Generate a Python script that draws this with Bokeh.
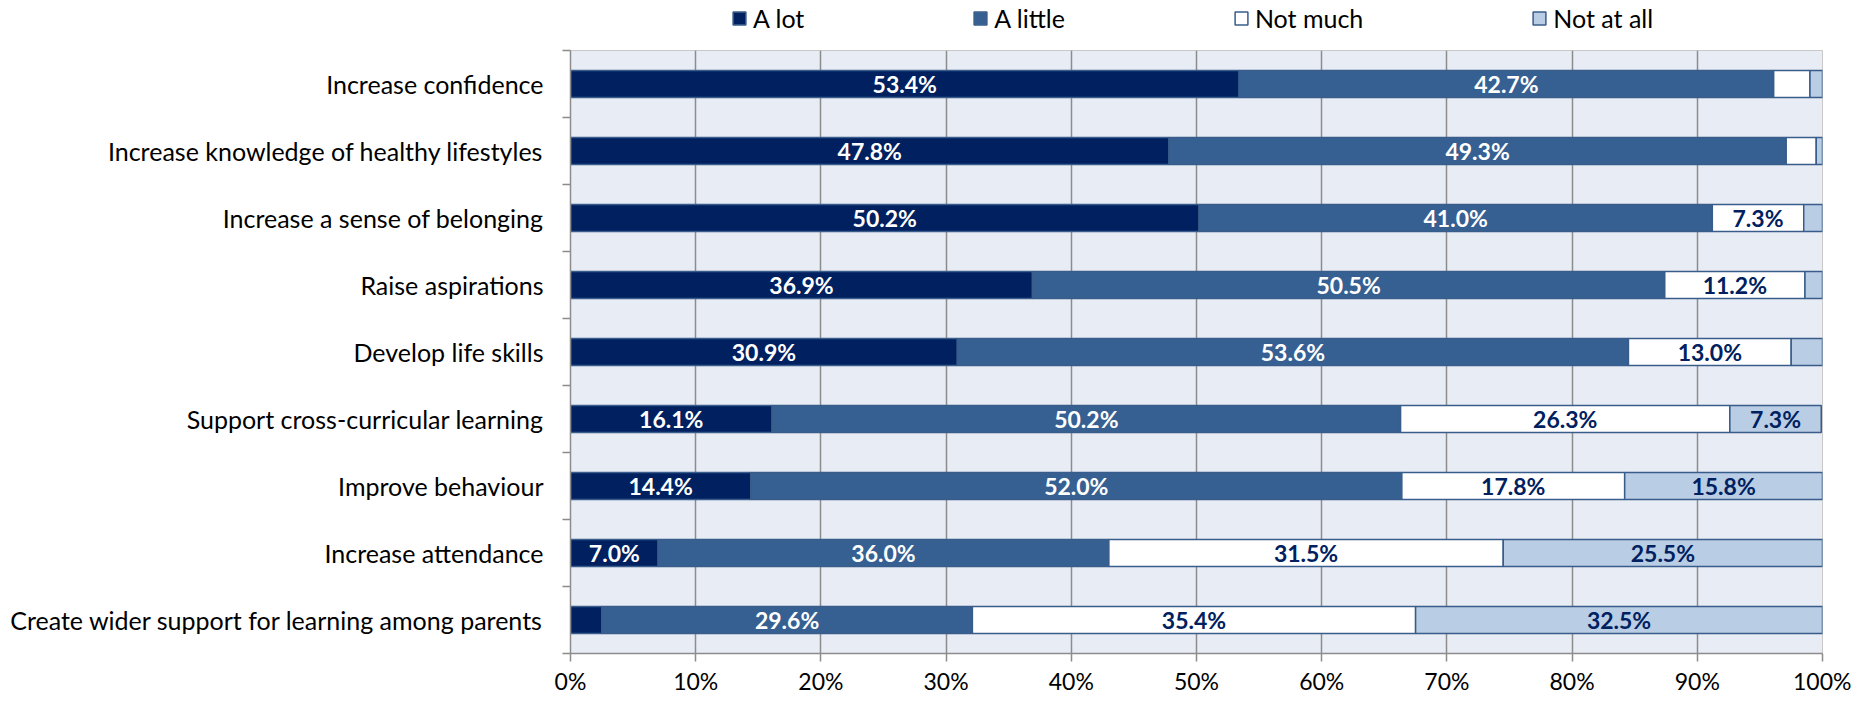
from bokeh.plotting import figure
from bokeh.layouts import column
from bokeh.models import (ColumnDataSource, Range1d, FixedTicker, PrintfTickFormatter,
                          Legend, LegendItem)
from bokeh.core.properties import value
from bokeh.embed import file_html
from bokeh.resources import INLINE

categories = ["Increase confidence",
              "Increase knowledge of healthy lifestyles",
              "Increase a sense of belonging",
              "Raise aspirations",
              "Develop life skills",
              "Support cross-curricular learning",
              "Improve behaviour",
              "Increase attendance",
              "Create wider support for learning among parents"]
a_lot = [53.4, 47.8, 50.2, 36.9, 30.9, 16.1, 14.4, 7.0, 2.5]
a_little = [42.7, 49.3, 41.0, 50.5, 53.6, 50.2, 52.0, 36.0, 29.6]
not_much = [2.9, 2.4, 7.3, 11.2, 13.0, 26.3, 17.8, 31.5, 35.4]
not_at_all = [1.0, 0.5, 1.5, 1.4, 2.5, 7.3, 15.8, 25.5, 32.5]
series_names = ["A lot", "A little", "Not much", "Not at all"]
x_ticks = list(range(0, 101, 10))

colors = ["#002060", "#376092", "#FFFFFF", "#B9CDE5"]
label_colors = ["#FFFFFF", "#FFFFFF", "#002060", "#002060"]
EDGE = "#385D8A"
FONT = "Lato"

n = len(categories)
ypos = [n - i - 0.5 for i in range(n)]
keys = ["a_lot", "a_little", "not_much", "not_at_all"]
source = ColumnDataSource(dict(y=ypos, a_lot=a_lot, a_little=a_little,
                               not_much=not_much, not_at_all=not_at_all))

W = 1851
LH = 46                      # legend strip height
H = 697 - LH
LEFT, RIGHT, TOP, BOTTOM = 570, 29, 4, 39

# ---------- legend strip (hidden copies of the stacked bars; only the legend shows) ----------
lg = figure(width=W, height=LH, output_backend="svg", toolbar_location=None,
            x_range=Range1d(0, 100), y_range=Range1d(-20, -19),
            min_border=0, min_border_left=0, min_border_right=0,
            min_border_top=0, min_border_bottom=0)
lg.axis.visible = False
lg.grid.visible = False
lg.outline_line_color = None
lg.background_fill_color = "white"
lg.border_fill_color = "white"
swatches = lg.hbar_stack(keys, y="y", height=0.4, color=colors, source=source,
                         line_color=EDGE, line_width=1.5)
for r in swatches:
    r.visible = False
legend = Legend(items=[LegendItem(label=series_names[k], renderers=[swatches[k]])
                       for k in range(4)],
                orientation="horizontal", location=(161, 13),
                glyph_width=16, glyph_height=16, label_standoff=6, spacing=168,
                label_height=26, label_text_baseline="middle",
                label_text_font=FONT, label_text_font_size="25px",
                label_text_color="black", border_line_color=None,
                background_fill_alpha=0, padding=2, margin=0,
                click_policy="none")
lg.add_layout(legend, "center")

# ---------- main chart ----------
p = figure(width=W, height=H, output_backend="svg", toolbar_location=None,
           x_range=Range1d(0, 100), y_range=Range1d(0, n),
           min_border_left=LEFT, min_border_right=RIGHT, min_border_top=TOP,
           min_border_bottom=BOTTOM)
p.background_fill_color = "#E8ECF4"
p.border_fill_color = "white"
p.outline_line_color = "#C8C8C8"
p.outline_line_width = 1

renderers = p.hbar_stack(keys, y="y", height=0.4, color=colors, source=source,
                         line_color=EDGE, line_width=1.5)

# data labels
data = [a_lot, a_little, not_much, not_at_all]
lx, ly, lt, lc = [], [], [], []
for i in range(n):
    start = 0.0
    for s in range(4):
        v = data[s][i]
        if v >= 5:
            lx.append(start + v / 2)
            ly.append(ypos[i])
            lt.append(f"{v:.1f}%")
            lc.append(label_colors[s])
        start += v
p.text(x=lx, y=ly, text=lt, text_color=lc, text_align="center",
       text_baseline="middle", text_font=value(FONT), text_font_style="bold",
       text_font_size="23px")

# grid
p.ygrid.grid_line_color = None
p.xgrid.ticker = FixedTicker(ticks=x_ticks)
p.xgrid.grid_line_color = "#8C8C8C"
p.xgrid.grid_line_width = 1.5

# x axis
xa = p.xaxis[0]
xa.ticker = FixedTicker(ticks=x_ticks)
xa.formatter = PrintfTickFormatter(format="%d%%")
xa.axis_line_color = "#8C8C8C"
xa.axis_line_width = 1.5
xa.major_tick_line_color = "#8C8C8C"
xa.major_tick_line_width = 1.5
xa.major_tick_out = 8
xa.major_tick_in = 0
xa.minor_tick_line_color = None
xa.major_label_standoff = 5
xa.major_label_text_font = FONT
xa.major_label_text_font_size = "23px"
xa.major_label_text_color = "black"

# y axis
ya = p.yaxis[0]
boundaries = list(range(0, n + 1))
ya.ticker = FixedTicker(ticks=ypos, minor_ticks=boundaries)
ya.major_label_overrides = {ypos[i]: categories[i] for i in range(n)}
ya.axis_line_color = "#8C8C8C"
ya.axis_line_width = 1.5
ya.major_tick_line_color = None
ya.major_tick_out = 0
ya.major_tick_in = 0
ya.minor_tick_line_color = "#8C8C8C"
ya.minor_tick_line_width = 1.5
ya.minor_tick_out = 8
ya.minor_tick_in = 0
ya.major_label_standoff = 19
ya.major_label_text_font = FONT
ya.major_label_text_font_size = "25px"
ya.major_label_text_color = "black"

layout = column(lg, p, spacing=0)
open("out.html", "w").write(file_html(layout, INLINE))
